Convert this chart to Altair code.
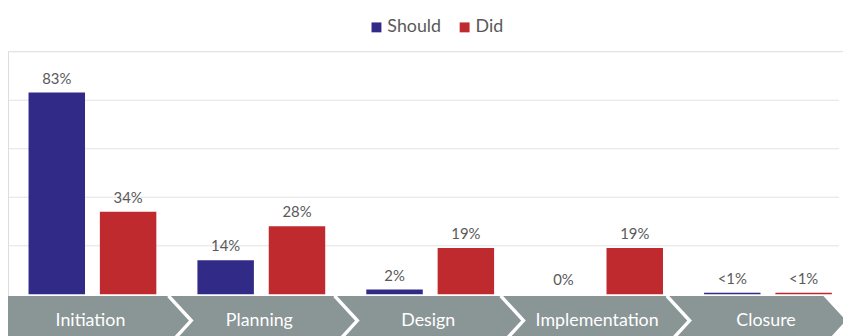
import altair as alt
import pandas as pd

categories = ["Initiation", "Planning", "Design", "Implementation", "Closure"]
series = ["Should", "Did"]
should_values = [83, 14, 2, 0, 0.6]
did_values = [34, 28, 19, 19, 0.6]
should_labels = ["83%", "14%", "2%", "0%", "<1%"]
did_labels = ["34%", "28%", "19%", "19%", "<1%"]
grid_values = [20, 40, 60, 80, 100]

rows = []
for i, c in enumerate(categories):
    rows.append({"phase": c, "series": "Should", "value": should_values[i], "label": should_labels[i]})
    rows.append({"phase": c, "series": "Did", "value": did_values[i], "label": did_labels[i]})
df = pd.DataFrame(rows)
phase_df = pd.DataFrame({"phase": categories})
sep_df = pd.DataFrame({"phase": categories[1:]})
end_df = pd.DataFrame({"phase": categories[-1:]})

FONT = "Lato"
GREY_TXT = "#595959"
BAND = "#8A9595"
MID = -10.8
CHEV_STEP = 167.7

x_scale = alt.Scale(domain=categories, range=[0, 852.5], paddingInner=0, paddingOuter=0)
chev_scale = alt.Scale(domain=categories, range=[0, 5 * CHEV_STEP], paddingInner=0, paddingOuter=0)
y_scale = alt.Scale(domain=[-16.5, 100], nice=False, zero=False)
off_scale = alt.Scale(domain=series, paddingInner=0.2083, paddingOuter=0.288)
color_scale = alt.Scale(domain=series, range=["#322A87", "#BE2A2E"])

x_enc = alt.X("phase:N", scale=x_scale, axis=None)

bars = alt.Chart(df).mark_bar().encode(
    x=x_enc,
    xOffset=alt.XOffset("series:N", scale=off_scale),
    y=alt.Y("value:Q", scale=y_scale,
            axis=alt.Axis(values=grid_values, grid=True, labels=False, ticks=False,
                          domain=False, title=None, gridColor="#E3E3E3", gridWidth=1)),
    y2=alt.datum(0),
    color=alt.Color("series:N", scale=color_scale,
                    legend=alt.Legend(orient="none", legendX=363, legendY=-33,
                                      direction="horizontal", title=None,
                                      symbolType="square", symbolSize=100,
                                      symbolStrokeWidth=0, labelFontSize=18,
                                      labelFont=FONT, labelColor=GREY_TXT,
                                      labelOffset=2, columnPadding=14, padding=0)),
)

labels = alt.Chart(df).mark_text(baseline="bottom", dy=-6, fontSize=15, font=FONT,
                                 color=GREY_TXT).encode(
    x=x_enc,
    xOffset=alt.XOffset("series:N", scale=off_scale),
    y=alt.Y("value:Q", scale=y_scale),
    text="label:N",
)

cat_text = alt.Chart(phase_df).mark_text(color="white", fontSize=18, font=FONT,
                                         baseline="middle", xOffset=-2).encode(
    x=x_enc,
    y=alt.datum(MID),
    text="phase:N",
)

band = alt.Chart(phase_df).mark_rect(color=BAND).encode(
    x=alt.value(0),
    x2=alt.value(870),
    y=alt.datum(-0.8),
    y2=alt.datum(-17),
)

# separators sit at the start of each chevron band (points are placed at band centres)
seps = alt.Chart(sep_df).mark_point(
    shape="M-0.46,-1L0.46,0L-0.46,1", size=2500, filled=False,
    stroke="white", strokeWidth=3.5, opacity=1, xOffset=5.8 - CHEV_STEP / 2,
).encode(
    x=alt.X("phase:N", scale=chev_scale, axis=None),
    y=alt.datum(MID),
)

end_cut = alt.Chart(end_df).mark_point(
    shape="M-0.46,-1L0.46,0L-0.46,1L1.5,1L1.5,-1Z", size=2500, filled=True,
    fill="white", strokeWidth=0, opacity=1, xOffset=CHEV_STEP / 2 - 4,
).encode(
    x=alt.X("phase:N", scale=chev_scale, axis=None),
    y=alt.datum(MID),
)

chev_layer = alt.layer(band, seps, end_cut)
bar_layer = alt.layer(cat_text, bars, labels)

chart = alt.layer(chev_layer, bar_layer).resolve_scale(x="independent").properties(
    width=843, height=286,
    autosize=alt.AutoSizeParams(type="none"),
    padding={"left": 0, "top": 42, "right": 0, "bottom": 0},
).configure_view(stroke=None).configure(background="white")

chart.save("out.html", embed_options={"renderer": "svg", "actions": False})
